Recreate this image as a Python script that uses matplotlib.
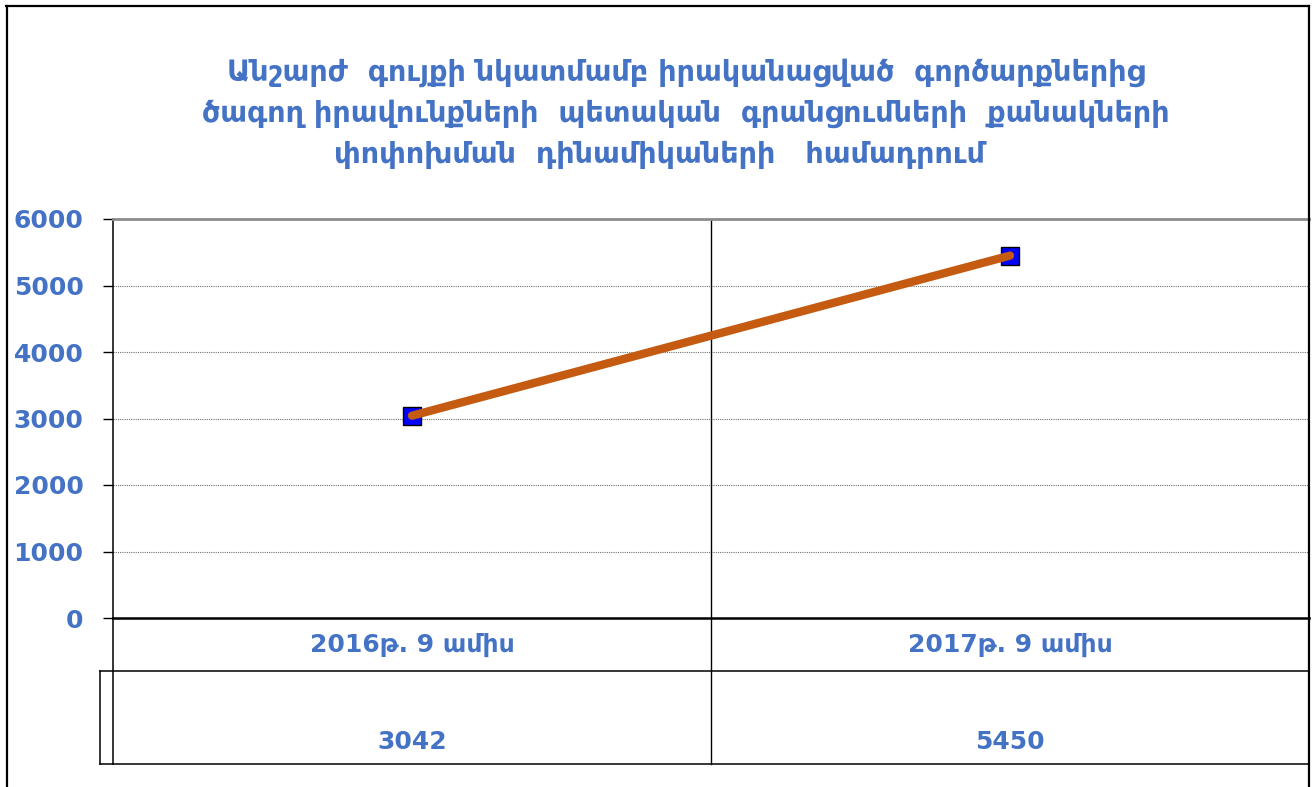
import matplotlib
matplotlib.use('Agg')
import matplotlib.pyplot as plt
import matplotlib.transforms as mtransforms
from matplotlib.lines import Line2D
import numpy as np

# ---- data ----
categories = ["2016թ. 9 ամիս", "2017թ. 9 ամիս"]
values = [3042, 5450]
yticks = [0, 1000, 2000, 3000, 4000, 5000, 6000]
title_lines = [
    "Անշարժ  գույքի նկատմամբ իրականացված  գործարքներից",
    "ծագող իրավունքների  պետական  գրանցումների  քանակների",
    "փոփոխման  դինամիկաների   համադրում",
]

plt.rcParams['font.family'] = ['DejaVu Sans']

W, H = 1314, 787
fig = plt.figure(figsize=(W / 100, H / 100), dpi=100)
BLUE = '#4472C4'


def fx(px):
    return px / W


def fy(py):
    return 1 - py / H


ax = fig.add_axes([fx(113), fy(618), fx(1309) - fx(113), fy(219) - fy(618)])
x = np.arange(len(categories))
ax.plot(x, values, ls='none', marker='s', ms=13, mfc='#0000FF', mec='black',
        mew=1, zorder=3, clip_on=False)
ax.plot(x, values, color='#C55A11', lw=6, solid_capstyle='round', zorder=4)

ax.set_xlim(-0.5, len(categories) - 0.5)
ax.set_ylim(0, 6000)
ax.set_yticks(yticks)
ax.set_yticklabels([str(v) for v in yticks], color=BLUE, fontsize=18,
                   fontweight='bold')
ax.set_xticks([])
ax.tick_params(axis='y', length=7.2, width=1.0, pad=14, color='black')
ax.yaxis.grid(True, ls=(0, (1, 1)), color='#707070', lw=0.8)
ax.set_axisbelow(True)

ax.spines['top'].set_color('#8c8c8c')
ax.spines['top'].set_linewidth(2.0)
ax.spines['left'].set_color('black')
ax.spines['left'].set_linewidth(1.1)
ax.spines['bottom'].set_color('black')
ax.spines['bottom'].set_linewidth(1.8)
ax.spines['right'].set_visible(False)

# category boundaries (plot area and table)
bt = mtransforms.blended_transform_factory(ax.transData, fig.transFigure)
for b in np.arange(1, len(categories)) - 0.5:
    ax.axvline(b, color='black', lw=1.0, zorder=2)
    fig.add_artist(Line2D([b, b], [fy(618), fy(764)], transform=bt,
                          color='black', lw=1.0))

# table lines
def fline(x0, y0, x1, y1, lw=1.1, color='black'):
    fig.add_artist(Line2D([fx(x0), fx(x1)], [fy(y0), fy(y1)],
                          transform=fig.transFigure, color=color, lw=lw))

fline(100, 671, 1309, 671)
fline(100, 764, 1309, 764)
fline(100, 671, 100, 764)
fline(113, 618, 113, 764)

# outer frame
fline(6, 6, 1309, 6, lw=1.6)
fline(7, 6, 7, 787, lw=1.6)
fline(1309, 6, 1309, 787, lw=1.6)

# table text
for xi, cat, val in zip(x, categories, values):
    fig.text(xi, fy(645), cat, transform=bt, ha='center', va='center',
             color=BLUE, fontsize=18, fontweight='bold')
    fig.text(xi, fy(742), str(val), transform=bt, ha='center', va='center',
             color=BLUE, fontsize=18, fontweight='bold')

# title
title_x = [686, 686, 660]
for i, line in enumerate(title_lines):
    fig.text(fx(title_x[i]), fy(73 + i * 41), line, ha='center', va='center',
             color=BLUE, fontsize=20.6, fontweight='bold')

fig.savefig('out.png', dpi=100)
